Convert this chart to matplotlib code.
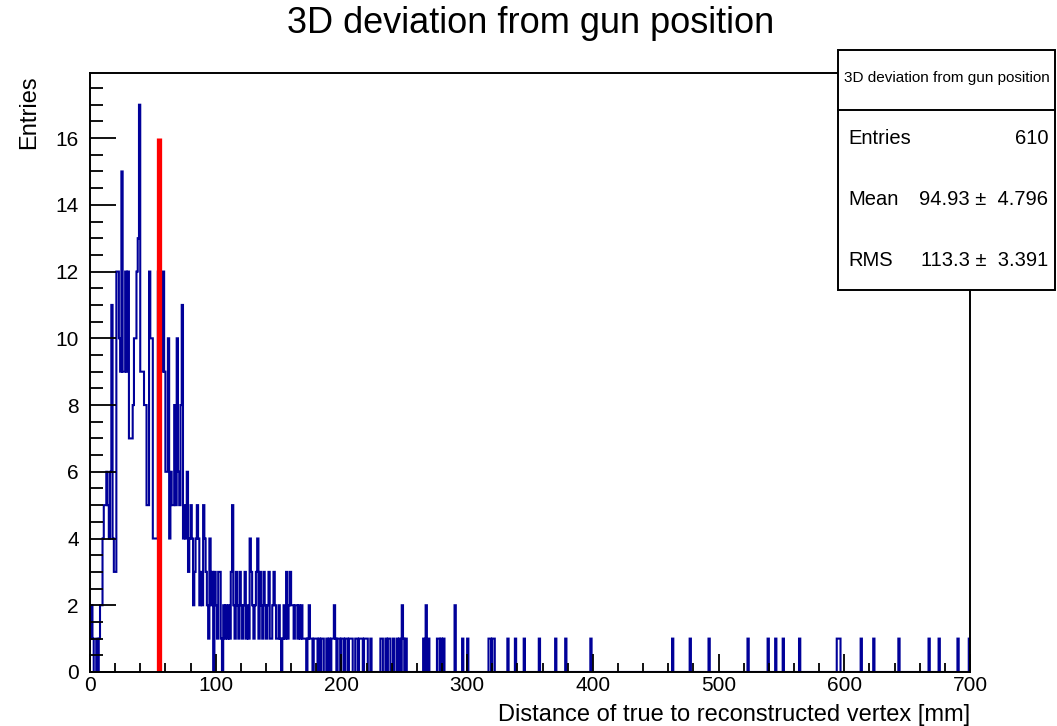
import numpy as np
import matplotlib.pyplot as plt
from matplotlib.patches import Rectangle
from matplotlib.lines import Line2D
from matplotlib.ticker import MultipleLocator

plt.rcParams['font.family'] = ['Liberation Sans', 'DejaVu Sans']

# counts per 1 mm bin, 0..229 mm
counts_low = [
    1, 2, 1, 0, 0, 1, 0, 1, 2, 2,
    4, 5, 5, 6, 5, 4, 6, 11, 4, 3,
    3, 12, 12, 10, 9, 15, 9, 9, 12, 9,
    12, 7, 7, 7, 8, 10, 10, 12, 13, 17,
    9, 9, 9, 8, 8, 5, 5, 12, 10, 10,
    4, 4, 4, 4, 12, 12, 10, 9, 12, 9,
    6, 6, 10, 4, 6, 5, 5, 8, 5, 10,
    6, 5, 8, 11, 4, 5, 4, 6, 3, 4,
    5, 4, 2, 3, 4, 5, 4, 2, 3, 2,
    5, 4, 3, 2, 1, 4, 2, 3, 0, 3,
    2, 1, 3, 3, 1, 0, 2, 1, 2, 1,
    2, 1, 3, 5, 2, 1, 3, 2, 1, 3,
    2, 1, 2, 3, 1, 2, 1, 4, 3, 2,
    1, 2, 3, 4, 1, 3, 2, 1, 3, 2,
    1, 2, 3, 1, 1, 2, 3, 2, 1, 1,
    2, 1, 0, 1, 2, 1, 3, 1, 2, 3,
    2, 2, 1, 2, 2, 1, 2, 1, 2, 1,
    1, 1, 0, 1, 2, 1, 1, 0, 1, 1,
    1, 0, 1, 0, 1, 1, 0, 0, 1, 0,
    1, 0, 1, 1, 2, 1, 0, 1, 1, 0,
    1, 1, 0, 1, 1, 0, 1, 1, 1, 0,
    0, 1, 1, 0, 1, 1, 1, 0, 1, 1,
    1, 0, 0, 1, 0, 0, 0, 0, 0, 0,
]

# sparse tail: bin position [mm] and count
tail_pos = [231, 232, 235, 237, 238, 241, 244, 246, 248, 249, 251,
            265, 267, 269, 276, 277, 279, 281, 290, 296, 300,
            317, 318, 320, 321, 332, 338, 345, 357, 370, 378, 398,
            463, 477, 492, 523, 539, 545, 551, 564, 594, 595, 596,
            613, 623, 643, 667, 675, 690, 699]
tail_cnt = [1, 1, 1, 1, 1, 1, 1, 1, 2, 1, 1,
            1, 2, 1, 1, 1, 1, 1, 2, 1, 1,
            1, 1, 1, 1, 1, 1, 1, 1, 1, 1, 1,
            1, 1, 1, 1, 1, 1, 1, 1, 1, 1, 1,
            1, 1, 1, 1, 1, 1, 1]

gun_x = 55
gun_h = 16

stats_title = "3D deviation from gun position"
stats_rows = [("Entries", "610"), ("Mean", "94.93 \u00b1  4.796"), ("RMS", "113.3 \u00b1  3.391")]

counts = np.zeros(700)
counts[:len(counts_low)] = counts_low
for p, c in zip(tail_pos, tail_cnt):
    counts[p] = c
edges = np.arange(0, 701)

fig = plt.figure(figsize=(10.57, 7.26), dpi=100)
ax = fig.add_axes([0.0851, 0.0744, 0.8326, 0.8250])

ax.stairs(counts, edges, color='#000099', linewidth=1.5)
ax.vlines(gun_x, 0, gun_h, color='red', linewidth=3.8)

ax.set_xlim(0, 700)
ax.set_ylim(0, 17.95)
ax.xaxis.set_major_locator(MultipleLocator(100))
ax.xaxis.set_minor_locator(MultipleLocator(20))
ax.yaxis.set_major_locator(MultipleLocator(2))
ax.yaxis.set_minor_locator(MultipleLocator(0.5))
ax.tick_params(axis='x', which='major', direction='in', length=13, width=1.3, labelsize=15, pad=3)
ax.tick_params(axis='x', which='minor', direction='in', length=6.5, width=1.3)
ax.tick_params(axis='y', which='major', direction='in', length=19, width=1.3, labelsize=15, pad=8)
ax.tick_params(axis='y', which='minor', direction='in', length=9.5, width=1.3)
for s in ax.spines.values():
    s.set_linewidth(1.4)

fig.text(0.9177, 0.0152, "Distance of true to reconstructed vertex [mm]",
         ha='right', va='center', fontsize=17)
fig.text(0.028, 0.8967, "Entries", rotation=90, ha='center', va='top', fontsize=17)
fig.text(0.502, 0.968, "3D deviation from gun position", ha='center', va='center', fontsize=26)

# stats box
bx0, bx1 = 838 / 1057, 1055 / 1057
by0, by1 = 1 - 290 / 726, 1 - 50 / 726
fig.add_artist(Rectangle((bx0, by0), bx1 - bx0, by1 - by0, transform=fig.transFigure,
                         facecolor='white', edgecolor='black', linewidth=1.4, zorder=5))
ydiv = 1 - 110 / 726
fig.add_artist(Line2D([bx0, bx1], [ydiv, ydiv], transform=fig.transFigure,
                      color='black', linewidth=1.4, zorder=6))
fig.text((bx0 + bx1) / 2, 1 - 78 / 726, stats_title, ha='center', va='center',
         fontsize=11, zorder=7)
for i, (k, v) in enumerate(stats_rows):
    yy = 1 - (139 + 60.5 * i) / 726
    fig.text(848 / 1057, yy, k, ha='left', va='center', fontsize=14.5, zorder=7)
    fig.text(1048 / 1057, yy, v, ha='right', va='center', fontsize=14.5, zorder=7)

fig.savefig("out.png", dpi=100)
